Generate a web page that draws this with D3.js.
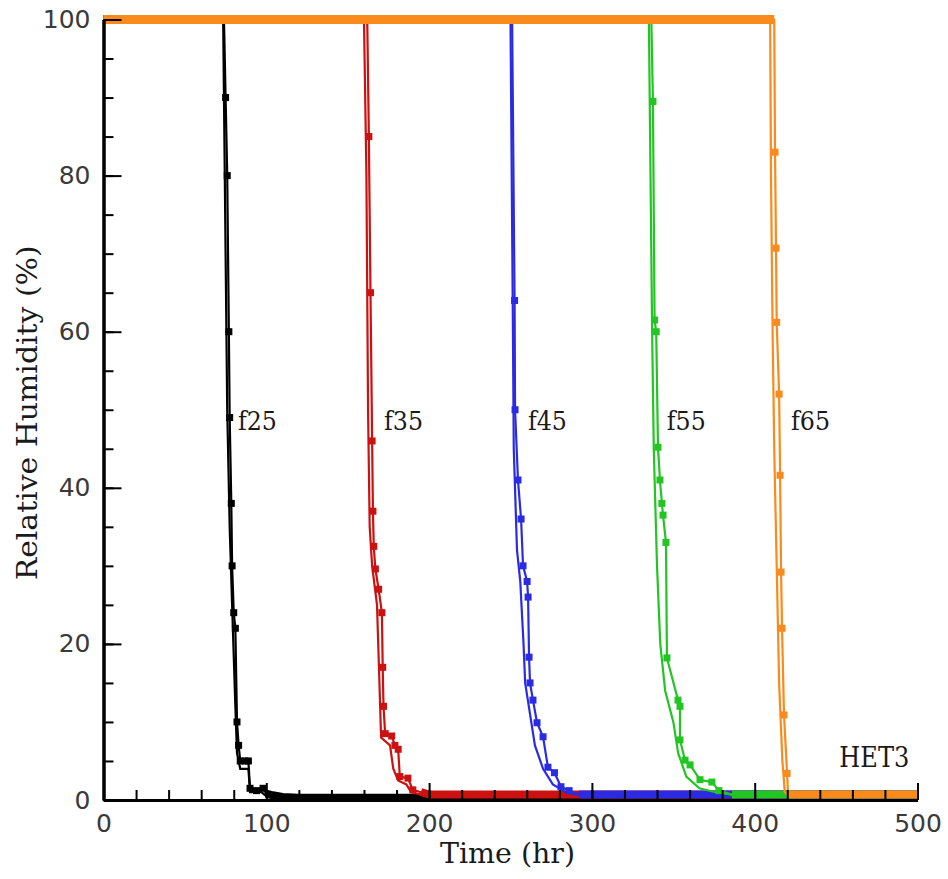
<!DOCTYPE html>
<html>
<head>
<meta charset="utf-8">
<style>
  body { margin: 0; background: #fff; }
  .tick text { font-family: "DejaVu Sans", sans-serif; font-size: 25px; fill: #3a3a3a; }
  .lbl { font-family: "DejaVu Serif", "Liberation Serif", serif; fill: #1a1a1a; }
</style>
</head>
<body>
<svg width="948" height="879"></svg>
<script src="https://cdn.jsdelivr.net/npm/d3@7"></script>
<script>
var svg = d3.select("svg"),
    margin = {top: 19.5, right: 30.5, bottom: 79, left: 103.5},
    width = svg.attr("width") - margin.left - margin.right,
    height = svg.attr("height") - margin.top - margin.bottom,
    g = svg.append("g").attr("transform", "translate(" + margin.left + "," + margin.top + ")");

svg.insert("rect", ":first-child").attr("width", 948).attr("height", 879).attr("fill", "#fff");

// series names, colours and label spots
var names = ["f25", "f35", "f45", "f55", "f65"];
var colors = ["#000000", "#cc1111", "#2b2be3", "#22c522", "#fb8a1c"];
var labelTime = [82.6, 172.3, 260.7, 346, 422.3];
var labelRH = 47.4;

// two curves per case [time (hr), RH (%)]
var f25a = [[0,100],[73.5,100],[74.5,80],[76,50],[77.5,35],[79,25],[81,12],[82,6],[84,4],[89,4],[90,1],[97,1],[100,0.5],[110,0.3],[500,0.3]];
var f25b = [[0,100],[74,100],[75,90],[76,80],[77,60],[77.5,49],[78.5,38],[79,30],[80,24],[81,22],[82,10],[83,7],[84,5],[87,5],[89,5],[90,1.5],[94,1.2],[98,1.5],[100,0.8],[104,0.6],[110,0.4],[120,0.3],[500,0.3]];
var f35a = [[0,100],[160,100],[161.5,80],[162.5,50],[163.5,35],[165,30],[168,25],[169.5,15],[170.5,8],[176,7],[178,4],[181,2.5],[186,2],[189,1],[195,0.7],[500,0.7]];
var f35b = [[0,100],[162,100],[163,85],[164,65],[165,46],[165.5,37],[166,32.5],[167,29.6],[169,27],[171,24],[171.5,17],[172,12],[173,8.5],[177,8.2],[179,7],[181,6.5],[182,3],[187,2.8],[190,1.3],[195,1],[200,0.7],[500,0.7]];
var f45a = [[0,100],[250,100],[251.5,60],[252,45],[254,32],[256,28],[258,20],[259,15],[262,11],[265,7],[270,4],[276,2],[284,1],[290,0.7],[500,0.7]];
var f45b = [[0,100],[251,100],[252.5,64],[252.8,50],[254.6,41],[256.5,36],[257.7,30],[260.2,28],[260.8,26],[261.4,18.3],[262,15],[263.8,12.8],[266.3,9.9],[270,8.1],[273,4.2],[277,3.5],[281,1.7],[286,1.2],[292,0.7],[500,0.7]];
var f55a = [[0,100],[335,100],[336,80],[337,60],[338,45],[340,30],[342,20],[345,14],[350,10],[353,6],[358,3],[366,1.5],[376,1],[386,0.7],[500,0.7]];
var f55b = [[0,100],[336.5,100],[337.5,89.5],[338.5,61.5],[339.5,60],[340.6,45.2],[341.8,41],[343,38],[343.7,36.5],[345.5,33],[346.1,18.2],[352.9,12.8],[354.1,12],[354.1,7.7],[357.2,5.1],[360.3,4.5],[366.4,2.6],[373.7,2.3],[378,1.2],[386,0.7],[500,0.7]];
var f65a = [[0,100],[409.5,100],[410,80],[411,60],[412,45],[413.5,30],[415,15],[417,5],[418.5,1],[420,0.7],[500,0.7]];
var f65b = [[0,100],[412,100],[412.5,83],[413.1,70.7],[413.5,61.2],[415,52],[415.6,41.6],[416.2,29.2],[416.8,22],[418,10.9],[419.9,3.4],[420.5,0.7],[500,0.7]];

var curves = [[f25a, f25b], [f35a, f35b], [f45a, f45b], [f55a, f55b], [f65a, f65b]];

var x = d3.scaleLinear().domain([0, 500]).range([0, width]),
    y = d3.scaleLinear().domain([0, 100]).range([height, 0]);

var line = d3.line()
    .x(function(d) { return x(d[0]); })
    .y(function(d) { return y(d[1]); });

curves.forEach(function(pair, i) {
  var c = colors[i], b = pair[1];
  // flat parts are drawn heavy (dense markers in the original)
  var top = b.filter(function(d) { return d[1] === 100; });
  var firstLow = b.findIndex(function(d) { return d[1] <= 1; });
  var tail = b.slice(firstLow);

  var s = g.append("g").attr("class", "case");
  s.append("path").attr("d", line(tail))
      .attr("fill", "none").attr("stroke", c).attr("stroke-width", 8);
  s.append("path").attr("d", line(top))
      .attr("fill", "none").attr("stroke", c).attr("stroke-width", 9);

  pair.forEach(function(pts) {
    s.append("path").attr("d", line(pts))
        .attr("fill", "none").attr("stroke", c).attr("stroke-width", 2.2);
  });

  s.selectAll("rect")
    .data(b.filter(function(d) { return d[1] < 100 && d[1] > 1; }))
    .enter().append("rect")
      .attr("x", function(d) { return x(d[0]) - 3.5; })
      .attr("y", function(d) { return y(d[1]) - 3.5; })
      .attr("width", 7).attr("height", 7)
      .attr("fill", c);

  g.append("text").attr("class", "lbl")
      .attr("x", x(labelTime[i])).attr("y", y(labelRH))
      .attr("textLength", 39).attr("lengthAdjust", "spacingAndGlyphs")
      .style("font-size", "26px")
      .text(names[i]);
});

// axes: ticks point inward, labels outside
var xMinor = d3.range(0, 501, 20), xMajor = d3.range(0, 501, 100);
var yMinor = d3.range(0, 101, 5), yMajor = d3.range(0, 101, 20);

function styleAx(sel) {
  sel.selectAll("line").attr("stroke", "#000").attr("stroke-width", 2);
  sel.select(".domain").attr("stroke", "#000").attr("stroke-width", 3);
}

g.append("g").attr("transform", "translate(0," + height + ")")
    .call(d3.axisTop(x).tickValues(xMinor).tickSize(10).tickSizeOuter(0).tickFormat(""))
    .call(styleAx);
g.append("g").attr("transform", "translate(0," + height + ")")
    .call(d3.axisTop(x).tickValues(xMajor).tickSize(17).tickSizeOuter(0).tickFormat(""))
    .call(styleAx);
g.append("g").attr("transform", "translate(0," + height + ")")
    .call(d3.axisBottom(x).tickValues(xMajor).tickSize(0).tickPadding(14))
    .call(function(a) { a.select(".domain").remove(); });

g.append("g")
    .call(d3.axisRight(y).tickValues(yMinor).tickSize(10).tickSizeOuter(0).tickFormat(""))
    .call(styleAx);
g.append("g")
    .call(d3.axisRight(y).tickValues(yMajor).tickSize(18).tickSizeOuter(0).tickFormat(""))
    .call(styleAx);
g.append("g")
    .call(d3.axisLeft(y).tickValues(yMajor).tickSize(0).tickPadding(13))
    .call(function(a) { a.select(".domain").remove(); });

g.selectAll(".tick text").attr("font-family", null).attr("font-size", null);

g.append("text").attr("class", "lbl")
    .attr("x", 404).attr("y", height + 63)
    .attr("text-anchor", "middle")
    .attr("textLength", 135).attr("lengthAdjust", "spacingAndGlyphs")
    .style("font-size", "28px")
    .text("Time (hr)");

g.append("text").attr("class", "lbl")
    .attr("transform", "rotate(-90)")
    .attr("x", -y(49.6))
    .attr("y", -67)
    .attr("text-anchor", "middle")
    .attr("textLength", 335).attr("lengthAdjust", "spacingAndGlyphs")
    .style("font-size", "28px")
    .text("Relative Humidity (%)");

g.append("text").attr("class", "lbl")
    .attr("x", x(452)).attr("y", y(4.2))
    .attr("textLength", 70).attr("lengthAdjust", "spacingAndGlyphs")
    .style("font-size", "28px")
    .text("HET3");
</script>
</body>
</html>
